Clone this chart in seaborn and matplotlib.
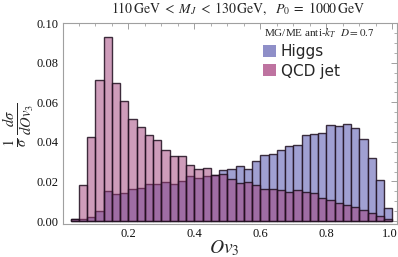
import numpy as np
import pandas as pd
import matplotlib
matplotlib.use("Agg")
import matplotlib.pyplot as plt
from matplotlib.patches import Patch
from matplotlib.ticker import MultipleLocator
from matplotlib.transforms import ScaledTranslation
import seaborn as sns

# ---- data (per-bin fractions) ----
bin_start, bin_stop, bin_width = 0.025, 1.0, 0.025   # 39 bins
higgs = [0.0010, 0.0010, 0.0022, 0.0050, 0.0153, 0.0137, 0.0142, 0.0160, 0.0169, 0.0187,
         0.0187, 0.0199, 0.0187, 0.0203, 0.0226, 0.0216, 0.0228, 0.0232, 0.0257, 0.0262,
         0.0280, 0.0263, 0.0302, 0.0333, 0.0336, 0.0360, 0.0380, 0.0386, 0.0435, 0.0440,
         0.0444, 0.0484, 0.0481, 0.0491, 0.0469, 0.0414, 0.0320, 0.0206, 0.0064]
qcd = [0.0010, 0.0182, 0.0422, 0.0714, 0.0930, 0.0697, 0.0606, 0.0515, 0.0474, 0.0434,
       0.0407, 0.0358, 0.0327, 0.0327, 0.0284, 0.0263, 0.0267, 0.0234, 0.0238, 0.0211,
       0.0194, 0.0197, 0.0180, 0.0160, 0.0160, 0.0155, 0.0145, 0.0155, 0.0149, 0.0142,
       0.0118, 0.0106, 0.0091, 0.0079, 0.0069, 0.0054, 0.0039, 0.0024, 0.0009]
labels = ["Higgs", "QCD jet"]
xtick_vals = [0.2, 0.4, 0.6, 0.8, 1.0]
xtick_labels = ["0.2", "0.4", "0.6", "0.8", "1.0"]
ytick_vals = [0.0, 0.02, 0.04, 0.06, 0.08, 0.10]
ytick_labels = ["0.00", "0.02", "0.04", "0.06", "0.08", "0.10"]
title = r"$110\,\mathrm{GeV}\;<\;M_J\;<\;130\,\mathrm{GeV},\ \ P_0\;=\;1000\,\mathrm{GeV}$"
note = r"MG/ME anti-$k_T$  $D = 0.7$"

n_bins = len(higgs)
centers = bin_start + bin_width * (np.arange(n_bins) + 0.5)
df_h = pd.DataFrame({"Ov3": centers, "w": higgs})
df_q = pd.DataFrame({"Ov3": centers, "w": qcd})

sns.set_theme(style="white")
plt.rcParams["font.family"] = ["Liberation Serif", "DejaVu Serif"]
plt.rcParams["mathtext.fontset"] = "stix"

fig = plt.figure(figsize=(3.98, 2.57), dpi=100)
ax = fig.add_axes([62.5 / 398, 1 - 224 / 257, (396.7 - 62.5) / 398, (224 - 23) / 257])

higgs_face = (160 / 255, 160 / 255, 210 / 255, 1.0)
qcd_face = (159 / 255, 59 / 255, 119 / 255, 0.5)
edge = (0.12, 0.06, 0.12, 0.85)

sns.histplot(data=df_h, x="Ov3", weights="w", binwidth=bin_width,
             binrange=(bin_start, bin_stop), ax=ax,
             facecolor=higgs_face, edgecolor=edge, linewidth=1.0)
sns.histplot(data=df_q, x="Ov3", weights="w", binwidth=bin_width,
             binrange=(bin_start, bin_stop), ax=ax,
             facecolor=qcd_face, edgecolor=edge, linewidth=1.0)

ax.set_xlim(0.0, 1.013)
ax.set_ylim(-0.0015, 0.1)
ax.set_xlabel("")
ax.set_ylabel("")

ax.xaxis.set_minor_locator(MultipleLocator(0.05))
ax.yaxis.set_minor_locator(MultipleLocator(0.005))
ax.set_xticks(xtick_vals)
ax.set_xticklabels(xtick_labels)
ax.set_yticks(ytick_vals)
ax.set_yticklabels(ytick_labels)
ax.tick_params(which="both", direction="in", top=True, right=True,
               color="#a0a0a0", labelsize=9, labelcolor="#111111", pad=3)
ax.tick_params(which="major", length=4, width=0.7)
ax.tick_params(which="minor", length=2, width=0.6)
for s in ax.spines.values():
    s.set_color("#a0a0a0")
    s.set_linewidth(0.8)
# keep the last x tick label inside the canvas
last = ax.get_xticklabels()[-1]
last.set_transform(last.get_transform() + ScaledTranslation(-3 / 100, 0, fig.dpi_scale_trans))

fig.text(238 / 398, 1 - 9 / 257, title, ha="center", va="center", fontsize=10)
fig.text(264 / 398, 1 - 33 / 257, note, ha="left", va="center", fontsize=8)
fig.text(19 / 398, 1 - 125 / 257, r"$\frac{1}{\sigma}\,\frac{d\sigma}{dOv_3}$",
         rotation=90, ha="center", va="center", fontsize=15)
fig.text(224 / 398, 1 - 248 / 257, r"$Ov_3$", ha="center", va="center", fontsize=14)

handles = [Patch(facecolor=(143 / 255, 143 / 255, 200 / 255), edgecolor="none"),
           Patch(facecolor=(190 / 255, 115 / 255, 160 / 255), edgecolor="none")]
ax.legend(handles, labels, loc="upper left", bbox_to_anchor=(263 / 398, 1 - 44 / 257),
          bbox_transform=fig.transFigure, frameon=False, borderaxespad=0, borderpad=0,
          handlelength=0.85, handleheight=0.85, handletextpad=0.3, labelspacing=0.3,
          prop={"family": "DejaVu Sans", "size": 11})

fig.savefig("out.png", dpi=100)
